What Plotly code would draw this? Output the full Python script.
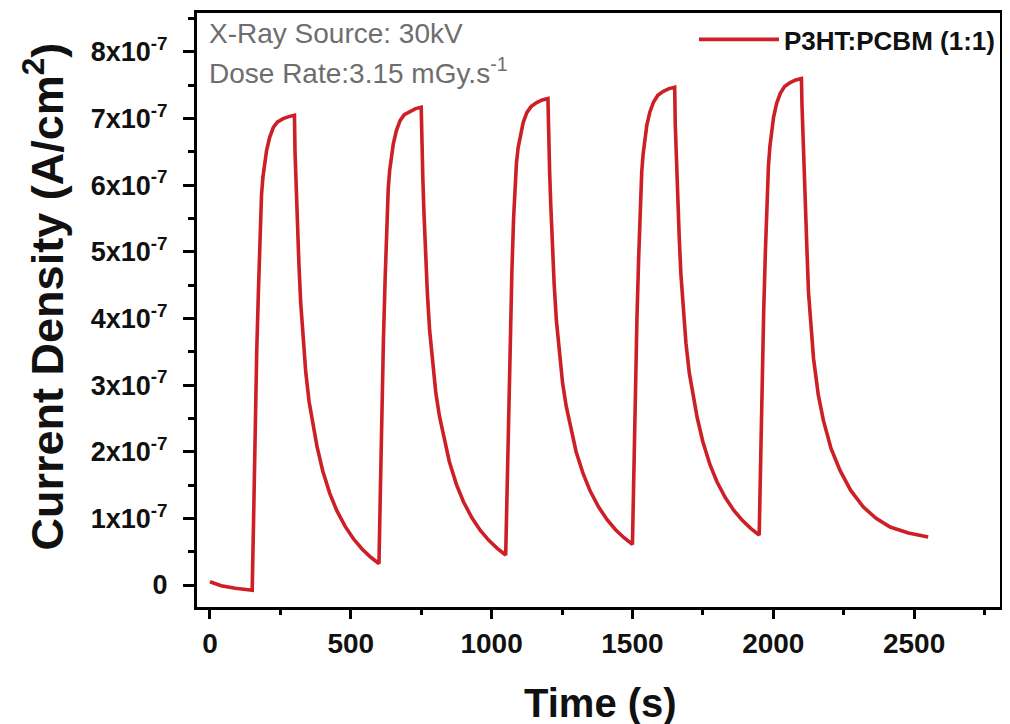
import plotly.graph_objects as go

# ---- data (current density in units of 1e-7 A/cm^2, time in s) ----
t_dark0 = [0, 40, 90, 150]
j_dark0 = [0.05, -0.01, -0.05, -0.08]

t_on1 = [150, 155, 160, 166, 172, 178, 183, 188, 194, 201, 212, 225, 240, 260, 280, 300]
j_on1 = [-0.08, 1.0, 2.4, 3.5, 4.4, 5.3, 5.85, 6.12, 6.35, 6.52, 6.72, 6.87, 6.95, 7.0, 7.03, 7.05]
t_off1 = [302, 306, 310, 316, 322, 330, 340, 352, 365, 380, 400, 425, 450, 480, 510, 540, 570, 600]
j_off1 = [6.5, 5.95, 5.45, 4.8, 4.25, 3.7, 3.2, 2.75, 2.4, 2.08, 1.72, 1.38, 1.12, 0.88, 0.69, 0.54, 0.42, 0.32]

t_on2 = [605, 610, 616, 622, 628, 633, 638, 644, 651, 662, 675, 690, 710, 730, 750]
j_on2 = [1.4, 2.7, 3.7, 4.6, 5.4, 5.95, 6.22, 6.45, 6.62, 6.82, 6.97, 7.06, 7.11, 7.15, 7.17]
t_off2 = [752, 756, 760, 766, 772, 780, 790, 802, 815, 830, 850, 875, 900, 930, 960, 990, 1020, 1050]
j_off2 = [6.62, 6.07, 5.57, 4.93, 4.37, 3.82, 3.33, 2.88, 2.53, 2.21, 1.85, 1.51, 1.25, 1.01, 0.82, 0.67, 0.55, 0.45]

t_on3 = [1055, 1060, 1066, 1072, 1078, 1083, 1088, 1094, 1101, 1112, 1125, 1140, 1160, 1180, 1200]
j_on3 = [1.5, 2.8, 3.8, 4.7, 5.5, 6.05, 6.32, 6.56, 6.74, 6.94, 7.09, 7.18, 7.24, 7.28, 7.30]
t_off3 = [1202, 1206, 1210, 1216, 1222, 1230, 1240, 1252, 1265, 1280, 1300, 1325, 1350, 1380, 1410, 1440, 1470, 1500]
j_off3 = [6.75, 6.20, 5.71, 5.07, 4.52, 3.97, 3.47, 3.03, 2.68, 2.36, 2.00, 1.67, 1.41, 1.17, 0.98, 0.83, 0.71, 0.61]

t_on4 = [1505, 1510, 1516, 1522, 1528, 1533, 1538, 1544, 1551, 1562, 1575, 1590, 1610, 1630, 1650]
j_on4 = [1.7, 3.0, 4.0, 4.9, 5.7, 6.2, 6.47, 6.7, 6.9, 7.1, 7.25, 7.35, 7.41, 7.45, 7.47]
t_off4 = [1652, 1656, 1660, 1666, 1672, 1680, 1690, 1702, 1715, 1730, 1750, 1775, 1800, 1830, 1860, 1890, 1920, 1950]
j_off4 = [6.92, 6.37, 5.87, 5.23, 4.67, 4.12, 3.63, 3.18, 2.83, 2.51, 2.15, 1.81, 1.55, 1.31, 1.12, 0.97, 0.85, 0.75]

t_on5 = [1955, 1960, 1966, 1972, 1978, 1983, 1988, 1994, 2001, 2012, 2025, 2040, 2060, 2080, 2100]
j_on5 = [1.8, 3.1, 4.1, 5.0, 5.8, 6.3, 6.58, 6.82, 7.02, 7.23, 7.38, 7.48, 7.54, 7.58, 7.60]
t_off5 = [2102, 2106, 2110, 2113, 2119, 2125, 2134, 2143, 2160, 2178, 2205, 2237, 2275, 2320, 2365, 2415, 2480, 2550]
j_off5 = [7.2, 6.6, 6.1, 5.88, 5.1, 4.4, 3.85, 3.4, 2.85, 2.47, 2.05, 1.72, 1.42, 1.17, 1.0, 0.87, 0.78, 0.72]

x_ticks = [0, 500, 1000, 1500, 2000, 2500]
y_tick_vals = [0, 1, 2, 3, 4, 5, 6, 7, 8]
y_tick_text = ["0", "1x10<sup>-7</sup>", "2x10<sup>-7</sup>", "3x10<sup>-7</sup>", "4x10<sup>-7</sup>",
               "5x10<sup>-7</sup>", "6x10<sup>-7</sup>", "7x10<sup>-7</sup>", "8x10<sup>-7</sup>"]

series_name = "P3HT:PCBM (1:1)"
x_title = "<b>Time (s)</b>"
y_title = "<b>Current Density (A/cm<sup>2</sup>)</b>"
note_1 = "X-Ray Source: 30kV"
note_2 = "Dose Rate:3.15 mGy.s<sup>-1</sup>"
UNIT = 1e-7

time_s = (t_dark0 + t_on1 + t_off1 + t_on2 + t_off2 + t_on3 + t_off3
          + t_on4 + t_off4 + t_on5 + t_off5)
current = [v * UNIT for v in (j_dark0 + j_on1 + j_off1 + j_on2 + j_off2 + j_on3 + j_off3
                              + j_on4 + j_off4 + j_on5 + j_off5)]

FONT = "Liberation Sans, Arial, Helvetica, sans-serif"
RED = "#cc1f26"

fig = go.Figure()
fig.add_trace(go.Scatter(
    x=time_s, y=current, mode="lines", name=series_name,
    line=dict(color=RED, width=3.6),
))

# the page body adds an 8px offset, so the canvas is 8px smaller than the window
fig.update_layout(
    width=1002, height=716,
    margin=dict(l=189, r=10, t=5, b=117, autoexpand=False),
    paper_bgcolor="white", plot_bgcolor="white",
    font=dict(family=FONT, color="black"),
    showlegend=True,
    legend=dict(
        x=1.0, y=0.995, xanchor="right", yanchor="top",
        bgcolor="rgba(0,0,0,0)", borderwidth=0,
        font=dict(family=FONT, size=26, color="#111", weight="bold"),
        itemwidth=80,
    ),
)

fig.update_xaxes(
    range=[-46, 2805], automargin=False,
    tickvals=x_ticks, ticktext=[str(v) for v in x_ticks],
    ticks="outside", ticklen=9, tickwidth=2.5, tickcolor="black",
    minor=dict(ticks="outside", ticklen=5, tickwidth=2.5, tickcolor="black", dtick=250, tick0=0),
    showline=True, linewidth=3, linecolor="black", mirror=True,
    showgrid=False, zeroline=False,
    tickfont=dict(family=FONT, size=28, color="#111", weight="bold"),
)

fig.update_yaxes(
    range=[-0.33 * UNIT, 8.585 * UNIT], automargin=False,
    tickvals=[v * UNIT for v in y_tick_vals], ticktext=y_tick_text,
    ticks="outside", ticklen=11, tickwidth=2.5, tickcolor="black",
    minor=dict(ticks="outside", ticklen=6, tickwidth=2.5, tickcolor="black", dtick=0.5 * UNIT, tick0=0),
    showline=True, linewidth=3, linecolor="black", mirror=True,
    showgrid=False, zeroline=False,
    ticklabelstandoff=10,
    tickfont=dict(family=FONT, size=27, color="#111", weight="bold"),
)

# axis titles placed as annotations for exact positioning
fig.add_annotation(
    text=x_title, xref="paper", yref="paper", x=0.503, y=-0.1616,
    xanchor="center", yanchor="middle", showarrow=False,
    font=dict(family=FONT, size=40, color="#111"),
)
fig.add_annotation(
    text=y_title, xref="paper", yref="paper", x=-0.19, y=0.5236,
    xanchor="center", yanchor="middle", showarrow=False, textangle=-90,
    font=dict(family=FONT, size=45, color="#111"),
)

fig.add_annotation(
    text=note_1, xref="paper", yref="paper",
    x=0.013, y=0.965, xanchor="left", yanchor="middle", showarrow=False,
    font=dict(family=FONT, size=28, color="#6e6e6e"),
)
fig.add_annotation(
    text=note_2, xref="paper", yref="paper",
    x=0.013, y=0.902, xanchor="left", yanchor="middle", showarrow=False,
    font=dict(family=FONT, size=28, color="#6e6e6e"),
)

fig.write_html("out.html")
